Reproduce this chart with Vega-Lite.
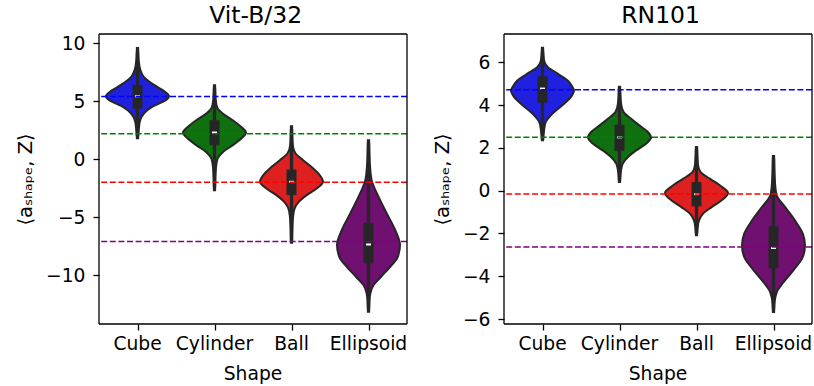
{
  "$schema": "https://vega.github.io/schema/vega-lite/v6.json",
  "padding": {"left": 15, "top": 3, "right": 2, "bottom": 4},
  "config": {
    "font": "DejaVu Sans",
    "view": {"stroke": null},
    "header": {
      "labelOrient": "bottom", "titleOrient": "bottom",
      "labelFontSize": 18.7, "labelColor": "black", "labelFont": "DejaVu Sans",
      "titleFontSize": 18.7, "titleFontWeight": "normal", "titleColor": "black", "titleFont": "DejaVu Sans",
      "labelPadding": 4, "titlePadding": 1
    },
    "title": {"fontSize": 23.5, "fontWeight": "normal", "color": "black", "font": "DejaVu Sans", "anchor": "middle", "offset": 6},
    "axis": {"labelFont": "DejaVu Sans", "titleFont": "DejaVu Sans"}
  },
  "datasets": {
    "vit": [
      {"Shape": "Cube", "value": 9.6, "w": 0.02}, {"Shape": "Cube", "value": 8.5, "w": 0.04}, {"Shape": "Cube", "value": 7.7, "w": 0.09}, {"Shape": "Cube", "value": 7.1, "w": 0.2}, {"Shape": "Cube", "value": 6.7, "w": 0.37}, {"Shape": "Cube", "value": 6.2, "w": 0.65}, {"Shape": "Cube", "value": 5.8, "w": 0.88}, {"Shape": "Cube", "value": 5.43, "w": 1.0}, {"Shape": "Cube", "value": 5.1, "w": 0.9}, {"Shape": "Cube", "value": 4.8, "w": 0.68}, {"Shape": "Cube", "value": 4.5, "w": 0.45}, {"Shape": "Cube", "value": 4.2, "w": 0.3}, {"Shape": "Cube", "value": 3.65, "w": 0.13}, {"Shape": "Cube", "value": 3.2, "w": 0.07}, {"Shape": "Cube", "value": 2.8, "w": 0.05}, {"Shape": "Cube", "value": 1.8, "w": 0.02},
      {"Shape": "Cylinder", "value": 6.38, "w": 0.02}, {"Shape": "Cylinder", "value": 5.1, "w": 0.04}, {"Shape": "Cylinder", "value": 4.37, "w": 0.1}, {"Shape": "Cylinder", "value": 3.94, "w": 0.26}, {"Shape": "Cylinder", "value": 3.36, "w": 0.58}, {"Shape": "Cylinder", "value": 2.78, "w": 0.85}, {"Shape": "Cylinder", "value": 2.3, "w": 1.0}, {"Shape": "Cylinder", "value": 1.78, "w": 0.85}, {"Shape": "Cylinder", "value": 1.2, "w": 0.58}, {"Shape": "Cylinder", "value": 0.63, "w": 0.27}, {"Shape": "Cylinder", "value": 0.06, "w": 0.1}, {"Shape": "Cylinder", "value": -0.66, "w": 0.05}, {"Shape": "Cylinder", "value": -1.6, "w": 0.03}, {"Shape": "Cylinder", "value": -2.67, "w": 0.02},
      {"Shape": "Ball", "value": 2.84, "w": 0.02}, {"Shape": "Ball", "value": 1.8, "w": 0.03}, {"Shape": "Ball", "value": 1.06, "w": 0.05}, {"Shape": "Ball", "value": 0.49, "w": 0.13}, {"Shape": "Ball", "value": -0.09, "w": 0.37}, {"Shape": "Ball", "value": -0.66, "w": 0.63}, {"Shape": "Ball", "value": -1.23, "w": 0.85}, {"Shape": "Ball", "value": -1.95, "w": 1.0}, {"Shape": "Ball", "value": -2.53, "w": 0.8}, {"Shape": "Ball", "value": -3.1, "w": 0.48}, {"Shape": "Ball", "value": -3.68, "w": 0.23}, {"Shape": "Ball", "value": -4.25, "w": 0.1}, {"Shape": "Ball", "value": -4.97, "w": 0.05}, {"Shape": "Ball", "value": -6.0, "w": 0.03}, {"Shape": "Ball", "value": -7.2, "w": 0.02},
      {"Shape": "Ellipsoid", "value": 1.64, "w": 0.02}, {"Shape": "Ellipsoid", "value": 0.5, "w": 0.03}, {"Shape": "Ellipsoid", "value": -0.66, "w": 0.05}, {"Shape": "Ellipsoid", "value": -1.81, "w": 0.1}, {"Shape": "Ellipsoid", "value": -3.25, "w": 0.32}, {"Shape": "Ellipsoid", "value": -4.68, "w": 0.58}, {"Shape": "Ellipsoid", "value": -6.12, "w": 0.85}, {"Shape": "Ellipsoid", "value": -7.41, "w": 1.0}, {"Shape": "Ellipsoid", "value": -8.42, "w": 0.93}, {"Shape": "Ellipsoid", "value": -9.28, "w": 0.69}, {"Shape": "Ellipsoid", "value": -10.14, "w": 0.4}, {"Shape": "Ellipsoid", "value": -10.86, "w": 0.16}, {"Shape": "Ellipsoid", "value": -11.58, "w": 0.06}, {"Shape": "Ellipsoid", "value": -12.3, "w": 0.03}, {"Shape": "Ellipsoid", "value": -13.16, "w": 0.02},
      {"Shape": "Cube", "kind": "box", "q1": 4.37, "q3": 6.38, "median": 5.43, "lo": 2.0, "hi": 9.3},
      {"Shape": "Cylinder", "kind": "box", "q1": 1.2, "q3": 3.36, "median": 2.3, "lo": -2.4, "hi": 6.1},
      {"Shape": "Ball", "kind": "box", "q1": -3.1, "q3": -0.89, "median": -1.95, "lo": -7.0, "hi": 2.6},
      {"Shape": "Ellipsoid", "kind": "box", "q1": -8.99, "q3": -5.49, "median": -7.36, "lo": -12.9, "hi": 1.4},
      {"Shape": "Cube", "line": "Cube", "mean": 5.4}, {"Shape": "Cube", "line": "Cylinder", "mean": 2.2}, {"Shape": "Cube", "line": "Ball", "mean": -1.98}, {"Shape": "Cube", "line": "Ellipsoid", "mean": -7.1},
      {"Shape": "Cylinder", "line": "Cube", "mean": 5.4}, {"Shape": "Cylinder", "line": "Cylinder", "mean": 2.2}, {"Shape": "Cylinder", "line": "Ball", "mean": -1.98}, {"Shape": "Cylinder", "line": "Ellipsoid", "mean": -7.1},
      {"Shape": "Ball", "line": "Cube", "mean": 5.4}, {"Shape": "Ball", "line": "Cylinder", "mean": 2.2}, {"Shape": "Ball", "line": "Ball", "mean": -1.98}, {"Shape": "Ball", "line": "Ellipsoid", "mean": -7.1},
      {"Shape": "Ellipsoid", "line": "Cube", "mean": 5.4}, {"Shape": "Ellipsoid", "line": "Cylinder", "mean": 2.2}, {"Shape": "Ellipsoid", "line": "Ball", "mean": -1.98}, {"Shape": "Ellipsoid", "line": "Ellipsoid", "mean": -7.1}
    ],
    "rn": [
      {"Shape": "Cube", "value": 6.68, "w": 0.02}, {"Shape": "Cube", "value": 6.09, "w": 0.05}, {"Shape": "Cube", "value": 5.78, "w": 0.16}, {"Shape": "Cube", "value": 5.47, "w": 0.48}, {"Shape": "Cube", "value": 5.15, "w": 0.8}, {"Shape": "Cube", "value": 4.84, "w": 0.95}, {"Shape": "Cube", "value": 4.69, "w": 1.0}, {"Shape": "Cube", "value": 4.37, "w": 0.9}, {"Shape": "Cube", "value": 3.99, "w": 0.63}, {"Shape": "Cube", "value": 3.6, "w": 0.32}, {"Shape": "Cube", "value": 3.2, "w": 0.1}, {"Shape": "Cube", "value": 2.82, "w": 0.05}, {"Shape": "Cube", "value": 2.35, "w": 0.02},
      {"Shape": "Cylinder", "value": 4.86, "w": 0.02}, {"Shape": "Cylinder", "value": 4.07, "w": 0.05}, {"Shape": "Cylinder", "value": 3.67, "w": 0.13}, {"Shape": "Cylinder", "value": 3.36, "w": 0.37}, {"Shape": "Cylinder", "value": 3.05, "w": 0.63}, {"Shape": "Cylinder", "value": 2.74, "w": 0.9}, {"Shape": "Cylinder", "value": 2.48, "w": 1.0}, {"Shape": "Cylinder", "value": 2.2, "w": 0.85}, {"Shape": "Cylinder", "value": 1.88, "w": 0.53}, {"Shape": "Cylinder", "value": 1.57, "w": 0.27}, {"Shape": "Cylinder", "value": 1.26, "w": 0.1}, {"Shape": "Cylinder", "value": 0.95, "w": 0.05}, {"Shape": "Cylinder", "value": 0.4, "w": 0.02},
      {"Shape": "Ball", "value": 2.04, "w": 0.02}, {"Shape": "Ball", "value": 1.18, "w": 0.05}, {"Shape": "Ball", "value": 0.87, "w": 0.13}, {"Shape": "Ball", "value": 0.56, "w": 0.42}, {"Shape": "Ball", "value": 0.25, "w": 0.74}, {"Shape": "Ball", "value": -0.11, "w": 1.0}, {"Shape": "Ball", "value": -0.45, "w": 0.8}, {"Shape": "Ball", "value": -0.77, "w": 0.48}, {"Shape": "Ball", "value": -1.07, "w": 0.21}, {"Shape": "Ball", "value": -1.39, "w": 0.08}, {"Shape": "Ball", "value": -1.7, "w": 0.04}, {"Shape": "Ball", "value": -2.08, "w": 0.02},
      {"Shape": "Ellipsoid", "value": 1.62, "w": 0.02}, {"Shape": "Ellipsoid", "value": 0.33, "w": 0.05}, {"Shape": "Ellipsoid", "value": -0.22, "w": 0.1}, {"Shape": "Ellipsoid", "value": -0.77, "w": 0.37}, {"Shape": "Ellipsoid", "value": -1.39, "w": 0.68}, {"Shape": "Ellipsoid", "value": -2.01, "w": 0.93}, {"Shape": "Ellipsoid", "value": -2.56, "w": 1.0}, {"Shape": "Ellipsoid", "value": -3.1, "w": 0.93}, {"Shape": "Ellipsoid", "value": -3.72, "w": 0.63}, {"Shape": "Ellipsoid", "value": -4.27, "w": 0.32}, {"Shape": "Ellipsoid", "value": -4.66, "w": 0.13}, {"Shape": "Ellipsoid", "value": -4.97, "w": 0.06}, {"Shape": "Ellipsoid", "value": -5.3, "w": 0.03}, {"Shape": "Ellipsoid", "value": -5.67, "w": 0.02},
      {"Shape": "Cube", "kind": "box", "q1": 4.11, "q3": 5.34, "median": 4.77, "lo": 2.4, "hi": 6.5},
      {"Shape": "Cylinder", "kind": "box", "q1": 1.85, "q3": 3.08, "median": 2.49, "lo": 0.5, "hi": 4.7},
      {"Shape": "Ball", "kind": "box", "q1": -0.73, "q3": 0.4, "median": -0.16, "lo": -1.98, "hi": 1.95},
      {"Shape": "Ellipsoid", "kind": "box", "q1": -3.62, "q3": -1.67, "median": -2.68, "lo": -5.55, "hi": 1.5},
      {"Shape": "Cube", "line": "Cube", "mean": 4.72}, {"Shape": "Cube", "line": "Cylinder", "mean": 2.49}, {"Shape": "Cube", "line": "Ball", "mean": -0.16}, {"Shape": "Cube", "line": "Ellipsoid", "mean": -2.63},
      {"Shape": "Cylinder", "line": "Cube", "mean": 4.72}, {"Shape": "Cylinder", "line": "Cylinder", "mean": 2.49}, {"Shape": "Cylinder", "line": "Ball", "mean": -0.16}, {"Shape": "Cylinder", "line": "Ellipsoid", "mean": -2.63},
      {"Shape": "Ball", "line": "Cube", "mean": 4.72}, {"Shape": "Ball", "line": "Cylinder", "mean": 2.49}, {"Shape": "Ball", "line": "Ball", "mean": -0.16}, {"Shape": "Ball", "line": "Ellipsoid", "mean": -2.63},
      {"Shape": "Ellipsoid", "line": "Cube", "mean": 4.72}, {"Shape": "Ellipsoid", "line": "Cylinder", "mean": 2.49}, {"Shape": "Ellipsoid", "line": "Ball", "mean": -0.16}, {"Shape": "Ellipsoid", "line": "Ellipsoid", "mean": -2.63}
    ]
  },
  "spacing": 24,
  "hconcat": [
    {
      "title": {"text": "Vit-B/32", "dx": 44},
      "data": {"name": "vit"},
      "facet": {"column": {"field": "Shape", "type": "nominal", "sort": ["Cube", "Cylinder", "Ball", "Ellipsoid"], "title": "Shape"}},
      "spacing": 0,
      "bounds": "flush",
      "spec": {
        "width": 77, "height": 290,
        "layer": [
          {
            "transform": [{"filter": {"field": "w", "valid": true}}],
            "mark": {"type": "area", "orient": "horizontal", "interpolate": "monotone", "stroke": "#262626", "strokeWidth": 2},
            "encoding": {
              "y": {"field": "value", "type": "quantitative", "scale": {"domain": [-14.22, 10.8], "nice": false, "zero": false},
                "axis": {"values": [-10, -5, 0, 5, 10], "grid": false, "domain": false, "tickSize": 6, "tickWidth": 1.3, "tickColor": "black", "labelFontSize": 18.7, "labelColor": "black", "labelPadding": 8, "title": "⟨aₛₕₐₚₑ, Z⟩", "titleFontSize": 19.5, "titleFontWeight": "normal", "titleColor": "black", "titlePadding": 10}},
              "x": {"field": "w", "type": "quantitative", "stack": "center", "impute": null, "scale": {"domain": [-0.111, 1.111], "nice": false, "zero": false},
                "axis": {"values": [0.5], "labels": false, "domain": false, "grid": false, "tickSize": 6, "tickWidth": 1.3, "tickColor": "black", "title": null}},
              "fill": {"field": "Shape", "type": "nominal", "scale": {"domain": ["Cube", "Cylinder", "Ball", "Ellipsoid"], "range": ["#2020df", "#107010", "#df2020", "#701070"]}, "legend": null}
            }
          },
          {
            "transform": [{"filter": "datum.kind == 'box'"}],
            "mark": {"type": "rule", "color": "#262626", "strokeWidth": 3.3},
            "encoding": {"x": {"datum": 0.5}, "y": {"field": "lo", "type": "quantitative"}, "y2": {"field": "hi"}}
          },
          {
            "transform": [{"filter": "datum.kind == 'box'"}],
            "mark": {"type": "rule", "color": "#262626", "strokeWidth": 10, "strokeCap": "butt"},
            "encoding": {"x": {"datum": 0.5}, "y": {"field": "q1", "type": "quantitative"}, "y2": {"field": "q3"}}
          },
          {
            "transform": [{"filter": "datum.kind == 'box'"}],
            "mark": {"type": "rule", "color": "white", "strokeWidth": 2},
            "encoding": {"x": {"datum": 0.46}, "x2": {"datum": 0.54}, "y": {"field": "median", "type": "quantitative"}}
          },
          {
            "transform": [{"filter": {"field": "mean", "valid": true}}],
            "mark": {"type": "rule", "strokeWidth": 1.5, "strokeDash": [6, 2.6]},
            "encoding": {
              "y": {"field": "mean", "type": "quantitative"},
              "stroke": {"field": "line", "type": "nominal", "scale": {"domain": ["Cube", "Cylinder", "Ball", "Ellipsoid"], "range": ["#0000ff", "#008000", "#ff0000", "#800080"]}, "legend": null}
            }
          },
          {
            "transform": [{"filter": "datum.kind == 'box'"}],
            "mark": {"type": "rule", "color": "black", "strokeWidth": 1.3},
            "encoding": {"y": {"datum": 10.8}}
          },
          {
            "transform": [{"filter": "datum.kind == 'box'"}],
            "mark": {"type": "rule", "color": "black", "strokeWidth": 1.3},
            "encoding": {"y": {"datum": -14.22}}
          },
          {
            "transform": [{"filter": "datum.kind == 'box' && datum.Shape == 'Cube'"}],
            "mark": {"type": "rule", "color": "black", "strokeWidth": 1.3},
            "encoding": {"x": {"datum": -0.111}}
          },
          {
            "transform": [{"filter": "datum.kind == 'box' && datum.Shape == 'Ellipsoid'"}],
            "mark": {"type": "rule", "color": "black", "strokeWidth": 1.3},
            "encoding": {"x": {"datum": 1.111}}
          }
        ]
      }
    },
    {
      "title": {"text": "RN101", "dx": 38},
      "data": {"name": "rn"},
      "facet": {"column": {"field": "Shape", "type": "nominal", "sort": ["Cube", "Cylinder", "Ball", "Ellipsoid"], "title": "Shape"}},
      "spacing": 0,
      "bounds": "flush",
      "spec": {
        "width": 77, "height": 290,
        "layer": [
          {
            "transform": [{"filter": {"field": "w", "valid": true}}],
            "mark": {"type": "area", "orient": "horizontal", "interpolate": "monotone", "stroke": "#262626", "strokeWidth": 2},
            "encoding": {
              "y": {"field": "value", "type": "quantitative", "scale": {"domain": [-6.23, 7.32], "nice": false, "zero": false},
                "axis": {"values": [-6, -4, -2, 0, 2, 4, 6], "grid": false, "domain": false, "tickSize": 6, "tickWidth": 1.3, "tickColor": "black", "labelFontSize": 18.7, "labelColor": "black", "labelPadding": 8, "title": "⟨aₛₕₐₚₑ, Z⟩", "titleFontSize": 19.5, "titleFontWeight": "normal", "titleColor": "black", "titlePadding": 10}},
              "x": {"field": "w", "type": "quantitative", "stack": "center", "impute": null, "scale": {"domain": [-0.111, 1.111], "nice": false, "zero": false},
                "axis": {"values": [0.5], "labels": false, "domain": false, "grid": false, "tickSize": 6, "tickWidth": 1.3, "tickColor": "black", "title": null}},
              "fill": {"field": "Shape", "type": "nominal", "scale": {"domain": ["Cube", "Cylinder", "Ball", "Ellipsoid"], "range": ["#2020df", "#107010", "#df2020", "#701070"]}, "legend": null}
            }
          },
          {
            "transform": [{"filter": "datum.kind == 'box'"}],
            "mark": {"type": "rule", "color": "#262626", "strokeWidth": 3.3},
            "encoding": {"x": {"datum": 0.5}, "y": {"field": "lo", "type": "quantitative"}, "y2": {"field": "hi"}}
          },
          {
            "transform": [{"filter": "datum.kind == 'box'"}],
            "mark": {"type": "rule", "color": "#262626", "strokeWidth": 10, "strokeCap": "butt"},
            "encoding": {"x": {"datum": 0.5}, "y": {"field": "q1", "type": "quantitative"}, "y2": {"field": "q3"}}
          },
          {
            "transform": [{"filter": "datum.kind == 'box'"}],
            "mark": {"type": "rule", "color": "white", "strokeWidth": 2},
            "encoding": {"x": {"datum": 0.46}, "x2": {"datum": 0.54}, "y": {"field": "median", "type": "quantitative"}}
          },
          {
            "transform": [{"filter": {"field": "mean", "valid": true}}],
            "mark": {"type": "rule", "strokeWidth": 1.5, "strokeDash": [6, 2.6]},
            "encoding": {
              "y": {"field": "mean", "type": "quantitative"},
              "stroke": {"field": "line", "type": "nominal", "scale": {"domain": ["Cube", "Cylinder", "Ball", "Ellipsoid"], "range": ["#0000ff", "#008000", "#ff0000", "#800080"]}, "legend": null}
            }
          },
          {
            "transform": [{"filter": "datum.kind == 'box'"}],
            "mark": {"type": "rule", "color": "black", "strokeWidth": 1.3},
            "encoding": {"y": {"datum": 7.32}}
          },
          {
            "transform": [{"filter": "datum.kind == 'box'"}],
            "mark": {"type": "rule", "color": "black", "strokeWidth": 1.3},
            "encoding": {"y": {"datum": -6.23}}
          },
          {
            "transform": [{"filter": "datum.kind == 'box' && datum.Shape == 'Cube'"}],
            "mark": {"type": "rule", "color": "black", "strokeWidth": 1.3},
            "encoding": {"x": {"datum": -0.111}}
          },
          {
            "transform": [{"filter": "datum.kind == 'box' && datum.Shape == 'Ellipsoid'"}],
            "mark": {"type": "rule", "color": "black", "strokeWidth": 1.3},
            "encoding": {"x": {"datum": 1.111}}
          }
        ]
      }
    }
  ]
}
